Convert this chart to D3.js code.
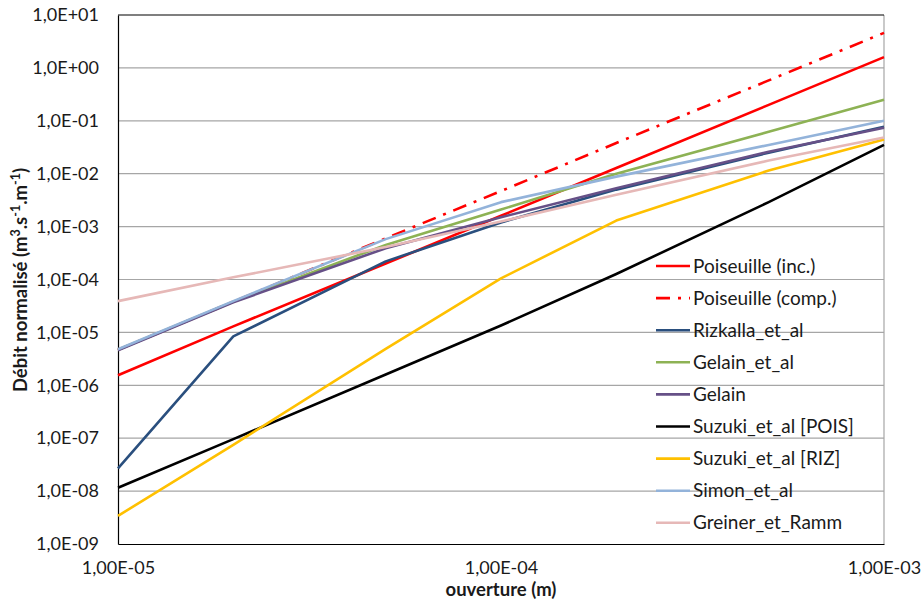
<!DOCTYPE html>
<html>
<head>
<meta charset="utf-8">
<script src="https://cdn.jsdelivr.net/npm/d3@7"></script>
<style>
  html, body { margin: 0; padding: 0; background: #ffffff; }
  svg { display: block; }
  text { font-family: Lato, "Liberation Sans", sans-serif; fill: #1a1a1a; }
</style>
</head>
<body>
<svg id="chart" width="922" height="601"></svg>
<script>
// ---- data ----
const apertures = [1e-5, 2e-5, 5e-5, 1e-4, 2e-4, 5e-4, 1e-3];

const seriesNames = [
  "Poiseuille (inc.)", "Poiseuille (comp.)", "Rizkalla_et_al", "Gelain_et_al",
  "Gelain", "Suzuki_et_al [POIS]", "Suzuki_et_al [RIZ]", "Simon_et_al", "Greiner_et_Ramm"
];

const poiseuilleInc  = [1.55e-6, 1.3e-5, 2.0e-4, 1.6e-3, 1.28e-2, 0.2, 1.6];
const poiseuilleComp = [4.7e-6, 3.8e-5, 6.0e-4, 4.7e-3, 3.8e-2, 0.58, 4.6];
const rizkalla       = [2.7e-8, 8.4e-6, 2.2e-4, 1.2e-3, 5.0e-3, 0.025, 0.077];
const gelainEtAl     = [4.7e-6, 3.8e-5, 4.5e-4, 2.1e-3, 1.0e-2, 0.062, 0.25];
const gelain         = [4.6e-6, 3.7e-5, 3.9e-4, 1.5e-3, 5.3e-3, 0.026, 0.074];
const suzukiPois     = [1.16e-8, 9.6e-8, 1.6e-6, 1.35e-5, 1.27e-4, 2.9e-3, 0.035];
const suzukiRiz      = [3.4e-9, 7.5e-8, 4.9e-6, 1.05e-4, 1.3e-3, 0.0115, 0.0445];
const simon          = [4.8e-6, 3.9e-5, 5.8e-4, 2.9e-3, 8.8e-3, 0.035, 0.1];
const greiner        = [3.9e-5, 1.1e-4, 4.1e-4, 1.25e-3, 4.0e-3, 0.0177, 0.0485];

const seriesValues = [poiseuilleInc, poiseuilleComp, rizkalla, gelainEtAl, gelain,
                      suzukiPois, suzukiRiz, simon, greiner];

const yTickValues = [1e-9, 1e-8, 1e-7, 1e-6, 1e-5, 1e-4, 1e-3, 1e-2, 1e-1, 1e0, 1e1];
const yTickLabels = ["1,0E-09", "1,0E-08", "1,0E-07", "1,0E-06", "1,0E-05", "1,0E-04",
                     "1,0E-03", "1,0E-02", "1,0E-01", "1,0E+00", "1,0E+01"];
const xTickValues = [1e-5, 1e-4, 1e-3];
const xTickLabels = ["1,00E-05", "1,00E-04", "1,00E-03"];

// ---- styles ----
const colors = ["#FF0000", "#FF0000", "#2A4F7E", "#8DB254", "#665087",
                "#000000", "#FFC000", "#93B3DA", "#E6B8B7"];
const dashes = [null, "14,8,3,8", null, null, null, null, null, null, null];

// ---- layout ----
const svg = d3.select("#chart");
const L = 118, R = 884, T = 15, B = 544;

const x = d3.scaleLog().domain([1e-5, 1e-3]).range([L, R]);
const y = d3.scaleLog().domain([1e-9, 1e1]).range([B, T]);

// gridlines
svg.append("g")
  .selectAll("line")
  .data(yTickValues.filter(v => v > 1e-9 && v < 1e1))
  .join("line")
  .attr("x1", L).attr("x2", R)
  .attr("y1", d => y(d)).attr("y2", d => y(d))
  .attr("stroke", "#A6A6A6").attr("stroke-width", 1.2);

// frame
svg.append("line").attr("x1", R).attr("x2", R).attr("y1", T).attr("y2", B)
  .attr("stroke", "#A6A6A6").attr("stroke-width", 1.2);
svg.append("line").attr("x1", L).attr("x2", R).attr("y1", T).attr("y2", T)
  .attr("stroke", "#000").attr("stroke-width", 1.2);

// y axis
const yAxis = d3.axisLeft(y).tickValues(yTickValues)
  .tickFormat((d, i) => yTickLabels[i]).tickSize(0).tickPadding(19);
const gy = svg.append("g").attr("transform", `translate(${L},0)`).call(yAxis);
gy.select(".domain").attr("stroke", "#000").attr("stroke-width", 1.2);
gy.selectAll("text").style("font-size", "18px").style("font-family", "Lato, 'Liberation Sans', sans-serif").attr("fill", "#1a1a1a");

// x axis
const xAxis = d3.axisBottom(x).tickValues(xTickValues)
  .tickFormat((d, i) => xTickLabels[i]).tickSize(0).tickPadding(17);
const gx = svg.append("g").attr("transform", `translate(0,${B})`).call(xAxis);
gx.select(".domain").attr("stroke", "#000").attr("stroke-width", 1.2);
gx.selectAll("text").style("font-size", "18px").style("font-family", "Lato, 'Liberation Sans', sans-serif").attr("fill", "#1a1a1a");

// lines
const line = d3.line().x((d, i) => x(apertures[i])).y(d => y(d));
svg.append("g").selectAll("path")
  .data(seriesValues)
  .join("path")
  .attr("d", d => line(d))
  .attr("fill", "none")
  .attr("stroke", (d, i) => colors[i])
  .attr("stroke-width", 2.6)
  .attr("stroke-linejoin", "round")
  .attr("stroke-dasharray", (d, i) => dashes[i]);

// legend
const legend = svg.append("g");
seriesNames.forEach((name, i) => {
  const yy = 266 + i * 32.1;
  legend.append("line")
    .attr("x1", 656).attr("x2", 690).attr("y1", yy).attr("y2", yy)
    .attr("stroke", colors[i]).attr("stroke-width", 2.6)
    .attr("stroke-dasharray", dashes[i]);
  legend.append("text")
    .attr("x", 693).attr("y", yy).attr("dy", "0.35em")
    .style("font-size", "19px")
    .text(name);
});

// axis titles
svg.append("text")
  .attr("x", (L + R) / 2).attr("y", 596)
  .attr("text-anchor", "middle")
  .style("font-size", "18.5px").style("font-weight", "bold")
  .text("ouverture (m)");

const yt = svg.append("text")
  .attr("transform", "translate(27,280) rotate(-90)")
  .attr("text-anchor", "middle")
  .style("font-size", "18.5px").style("font-weight", "bold");
yt.append("tspan").text("Débit normalisé (m");
yt.append("tspan").attr("dy", -7).style("font-size", "12.5px").text("3");
yt.append("tspan").attr("dy", 7).text(".s");
yt.append("tspan").attr("dy", -7).style("font-size", "12.5px").text("-1");
yt.append("tspan").attr("dy", 7).text(".m");
yt.append("tspan").attr("dy", -7).style("font-size", "12.5px").text("-1");
yt.append("tspan").attr("dy", 7).text(")");
</script>
</body>
</html>
